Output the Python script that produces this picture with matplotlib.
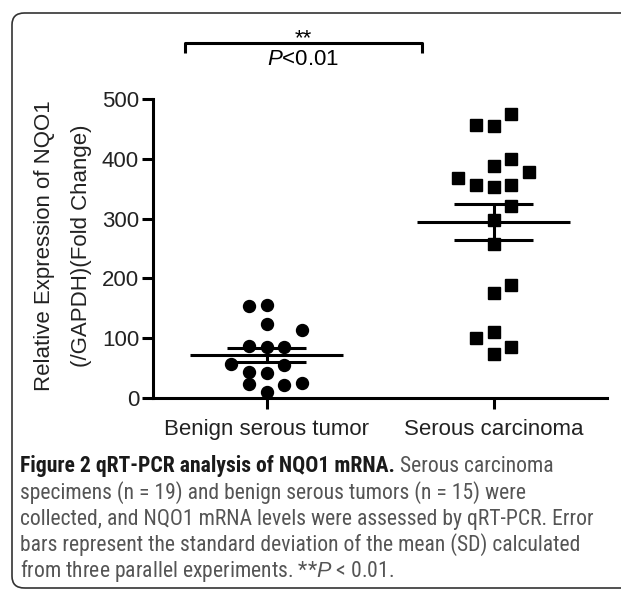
import numpy as np
import matplotlib.pyplot as plt
from matplotlib.patches import FancyBboxPatch

groups = ["Benign serous tumor", "Serous carcinoma"]
benign = [154, 155, 124, 114, 87, 85, 85, 57, 55, 43, 42, 23, 22, 25, 10]
serous = [475, 456, 455, 400, 388, 378, 368, 356, 353, 356, 321, 298, 258,
          189, 176, 110, 100, 85, 74]
yticks = [0, 100, 200, 300, 400, 500]

# swarm slot of each point (left/right of the group centre)
benign_slot = [-1, 0, 0, 2, -1, 0, 1, -2, 1, -1, 0, -1, 1, 2, 0]
serous_slot = [1, -1, 0, 1, 0, 2, -2, -1, 0, 1, 1, 0, 0, 1, 0, 0, -1, 1, 0]

W, H = 621, 590
fig = plt.figure(figsize=(W / 100, H / 100), dpi=100)
plt.rcParams['font.family'] = ['Liberation Sans', 'DejaVu Sans']
plt.rcParams['mathtext.fontset'] = 'custom'
plt.rcParams['mathtext.it'] = 'Liberation Sans:italic'

def px(x, y):
    return x / W, 1 - y / H

# rounded frame around the figure (runs off the right edge)
frame = FancyBboxPatch(px(12, 588), 700 / W, (588 - 13) / H,
                       boxstyle="round,pad=0,rounding_size=0.02",
                       transform=fig.transFigure, fill=False,
                       edgecolor="#333333", linewidth=1.2, clip_on=False)
fig.patches.append(frame)

ax = fig.add_axes([153 / W, 1 - 398 / H, (607 - 153) / W, (398 - 99) / H])
lw = 2.2
step = 0.079
for i, (vals, slots, mk, ms) in enumerate([(benign, benign_slot, 'o', 8.6),
                                             (serous, serous_slot, 's', 8.4)]):
    vals = np.array(vals, dtype=float)
    xs = i + np.array(slots) * step
    ax.plot(xs, vals, linestyle='none', marker=mk, markersize=ms,
            color='black', clip_on=False)
    mean = vals.mean()
    sem = vals.std(ddof=1) / np.sqrt(len(vals))
    ax.hlines(mean, i - 0.335, i + 0.335, color='black', linewidth=lw)
    ax.hlines([mean - sem, mean + sem], i - 0.175, i + 0.175,
              color='black', linewidth=lw)
    ax.vlines(i, mean - sem, mean + sem, color='black', linewidth=lw)

ax.set_xlim(-0.5, 1.5)
ax.set_ylim(0, 500)
ax.set_xticks([0, 1])
ax.set_xticklabels(groups)
ax.set_yticks(yticks)
for s in ['top', 'right']:
    ax.spines[s].set_visible(False)
for s in ['left', 'bottom']:
    ax.spines[s].set_linewidth(lw)
ax.tick_params(width=lw, length=8, labelsize=16, colors='black',
               labelcolor='#222222')
ax.tick_params(axis='x', pad=7)
ax.tick_params(axis='y', pad=2)

fig.text(*px(45, 246), "Relative Expression of NQO1", rotation=90,
         ha='center', va='center', fontsize=16, color='#222222')
fig.text(*px(82, 246), "(/GAPDH)(Fold Change)", rotation=90,
         ha='center', va='center', fontsize=16, color='#222222')

# significance bracket
by, tip = 594, 577
xl, xr = -0.361, 0.687
ax.plot([xl, xl, xr, xr], [tip, by, by, tip], color='black',
        linewidth=lw, clip_on=False, solid_capstyle='butt')
ax.text((xl + xr) / 2, by - 10, "**", ha='center', va='bottom', fontsize=16)
ax.text((xl + xr) / 2, by - 11, "$\\mathit{P}$<0.01", ha='center', va='top',
        fontsize=16)

# caption, sized so the widest line fits the reference width
cap_font = ['Roboto Condensed', 'Open Sans Condensed', 'Roboto', 'DejaVu Sans']
lines_y = [466, 493, 519, 545, 571]
rest = ["specimens (n = 19) and benign serous tumors (n = 15) were",
        "collected, and NQO1 mRNA levels were assessed by qRT-PCR. Error",
        "bars represent the standard deviation of the mean (SD) calculated",
        "from three parallel experiments. **$\\mathit{P}$ < 0.01."]
renderer = fig.canvas.get_renderer()
probe = fig.text(0, 0, rest[1], family=cap_font, fontsize=14)
cap_size = 14 * 579 / probe.get_window_extent(renderer).width
probe.remove()

bold = fig.text(*px(20, lines_y[0]), "Figure 2 qRT-PCR analysis of NQO1 mRNA.",
                family=cap_font, fontweight='bold', fontsize=cap_size,
                ha='left', va='center', color='#1a1a1a')
bb = bold.get_window_extent(renderer)
fig.text(bb.x1 / W + 5 / W, 1 - lines_y[0] / H, "Serous carcinoma",
         family=cap_font, fontsize=cap_size, ha='left', va='center',
         color='#555555')
for y, t in zip(lines_y[1:], rest):
    fig.text(*px(20, y), t, family=cap_font, fontsize=cap_size,
             ha='left', va='center', color='#555555')

fig.savefig("out.png", dpi=100)
